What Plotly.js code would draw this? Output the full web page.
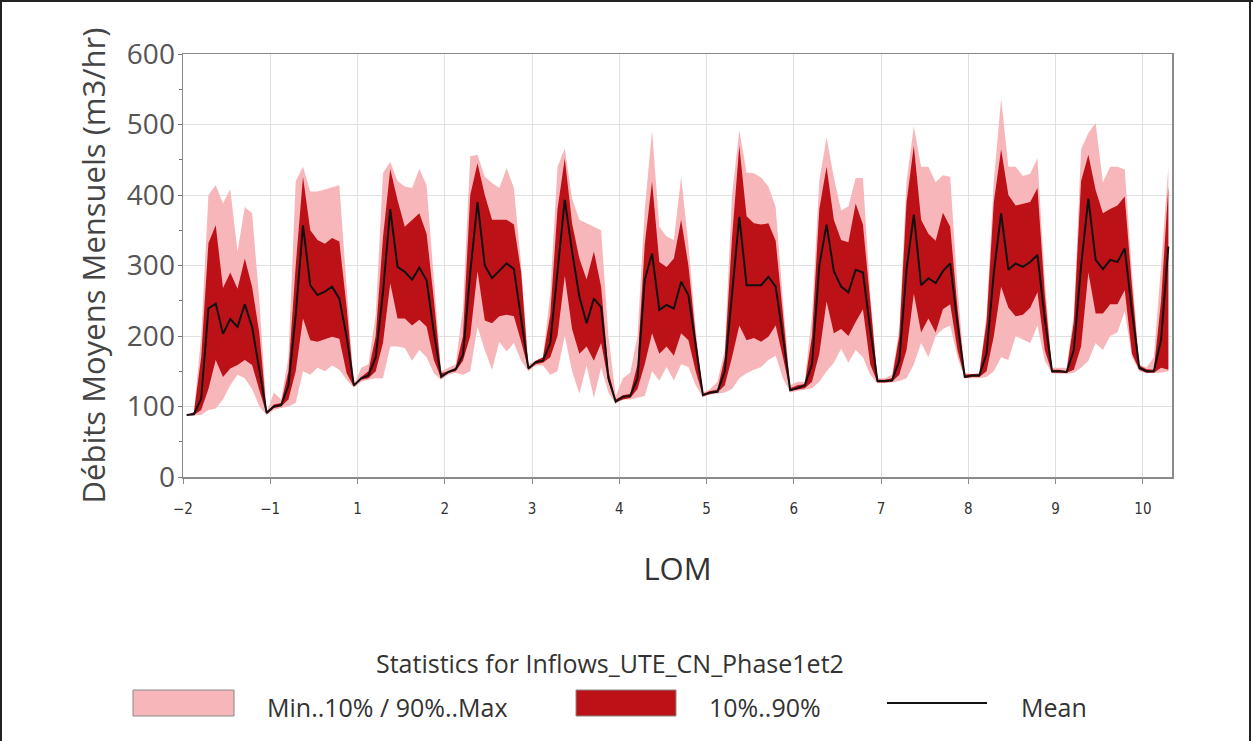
<!DOCTYPE html>
<html>
<head>
<meta charset="utf-8">
<script src="https://cdn.plot.ly/plotly-3.0.1.min.js"></script>
<style>
  html, body { margin: 0; padding: 0; background: #fff; }
  #chart { width: 1253px; height: 741px; }
</style>
</head>
<body>
<div id="chart"></div>
<script>
// x-axis year labels (there is no year 0 on this axis)
const tickLabels = ['\u22122', '\u22121', '1', '2', '3', '4', '5', '6', '7', '8', '9', '10'];

// Monthly statistics, one row per year (12 months), last row is a partial year
const minVals = [
  87, 87, 88, 95, 97, 110, 130, 145, 140, 125, 100, 88,
  95, 98, 100, 105, 150, 145, 155, 150, 158, 152, 138, 127,
  135, 138, 140, 140, 185, 185, 183, 165, 180, 170, 147, 138,
  145, 148, 145, 150, 213, 180, 152, 192, 178, 190, 165, 150,
  158, 158, 145, 150, 200, 150, 118, 158, 112, 155, 120, 104,
  110, 110, 112, 115, 150, 137, 156, 137, 160, 156, 130, 113,
  118, 118, 120, 125, 140, 147, 152, 156, 166, 172, 140, 120,
  122, 124, 126, 135, 150, 162, 182, 162, 180, 170, 145, 133,
  133, 134, 136, 140, 160, 190, 170, 200, 210, 215, 170, 140,
  140, 140, 142, 150, 170, 166, 200, 195, 190, 215, 165, 147,
  146, 146, 148, 155, 165, 190, 180, 200, 205, 235, 170, 150,
  147, 147, 148, 150
];
const p10Vals = [
  88, 88, 95, 125, 166, 142, 154, 159, 166, 159, 123, 89,
  98, 100, 110, 150, 225, 194, 192, 195, 199, 196, 147, 128,
  138, 140, 150, 190, 275, 225, 225, 215, 223, 213, 166, 140,
  148, 150, 165, 200, 292, 222, 218, 228, 230, 228, 192, 152,
  160, 162, 170, 200, 285, 210, 175, 185, 165, 190, 135, 106,
  110, 112, 125, 160, 204, 175, 185, 172, 204, 194, 150, 115,
  118, 120, 130, 170, 215, 194, 197, 192, 199, 215, 170, 122,
  124, 126, 135, 175, 249, 204, 210, 200, 220, 238, 160, 134,
  134, 135, 145, 180, 260, 205, 225, 205, 238, 245, 180, 140,
  142, 142, 150, 200, 270, 240, 228, 230, 240, 262, 180, 148,
  148, 148, 152, 185, 290, 232, 232, 245, 245, 265, 175, 152,
  148, 148, 155, 152
];
const meanVals = [
  88, 89, 111, 239, 246, 203, 224, 213, 245, 213, 152, 91,
  100, 102, 130, 230, 357, 272, 258, 263, 270, 253, 199, 130,
  140, 144, 170, 262, 380, 298, 291, 280, 297, 279, 205, 142,
  149, 153, 173, 290, 390, 300, 282, 292, 303, 295, 222, 154,
  163, 165, 190, 290, 393, 320, 256, 218, 253, 241, 140, 107,
  114, 115, 140, 280, 317, 237, 244, 239, 277, 258, 185, 116,
  120, 121, 150, 255, 369, 272, 272, 272, 284, 270, 199, 123,
  126, 130, 160, 300, 358, 292, 270, 262, 294, 290, 210, 136,
  136, 137, 165, 295, 372, 272, 282, 275, 292, 303, 218, 142,
  144, 144, 175, 290, 374, 294, 303, 298, 305, 315, 225, 150,
  150, 149, 180, 300, 395, 308, 295, 308, 305, 324, 235, 155,
  150, 150, 195, 327
];
const p90Vals = [
  88, 92, 170, 332, 357, 268, 290, 267, 310, 270, 204, 92,
  103, 105, 150, 300, 426, 350, 336, 331, 339, 334, 241, 130,
  142, 150, 200, 340, 437, 393, 355, 365, 374, 345, 251, 147,
  150, 155, 200, 400, 445, 400, 365, 365, 365, 358, 290, 154,
  165, 170, 230, 380, 452, 360, 310, 280, 320, 270, 150, 110,
  116, 118, 160, 330, 419, 305, 298, 310, 365, 300, 200, 118,
  122, 124, 170, 340, 470, 370, 360, 358, 360, 335, 230, 126,
  130, 132, 200, 380, 440, 365, 336, 333, 388, 358, 250, 138,
  138, 140, 200, 390, 470, 365, 345, 335, 375, 355, 240, 145,
  146, 146, 220, 390, 465, 400, 385, 388, 390, 410, 260, 152,
  152, 150, 220, 420, 457, 407, 374, 380, 385, 398, 270, 158,
  153, 152, 250, 412
];
const maxVals = [
  88, 92, 200, 400, 414, 388, 408, 320, 383, 374, 250, 92,
  120, 110, 170, 420, 440, 405, 405, 408, 412, 414, 270, 130,
  155, 160, 230, 431, 447, 420, 412, 410, 437, 414, 280, 150,
  155, 160, 240, 455, 457, 426, 417, 410, 438, 410, 300, 160,
  165, 170, 260, 440, 466, 395, 365, 360, 355, 350, 200, 115,
  140, 148, 200, 380, 492, 355, 341, 336, 426, 330, 210, 120,
  125, 135, 180, 400, 492, 432, 431, 425, 412, 383, 250, 130,
  135, 135, 230, 420, 482, 425, 378, 384, 424, 424, 260, 140,
  140, 145, 210, 420, 497, 440, 440, 418, 428, 426, 270, 148,
  146, 148, 230, 420, 537, 440, 440, 427, 430, 452, 280, 155,
  155, 155, 230, 465, 488, 502, 418, 440, 440, 436, 290, 160,
  155, 170, 300, 440
];

const PINK = '#F7B7BA';
const DARK = '#BD1118';

// month positions (mid-month), axis in months
const months = meanVals.map((_, i) => i + 0.5);
const tickVals = tickLabels.map((_, i) => i * 12);

const traces = [
  { x: months, y: minVals, type: 'scatter', mode: 'lines', line: { width: 0, color: PINK }, hoverinfo: 'skip', showlegend: false },
  { x: months, y: maxVals, type: 'scatter', mode: 'lines', fill: 'tonexty', fillcolor: PINK, line: { width: 0, color: PINK }, showlegend: false },
  { x: months, y: p10Vals, type: 'scatter', mode: 'lines', line: { width: 0, color: DARK }, hoverinfo: 'skip', showlegend: false },
  { x: months, y: p90Vals, type: 'scatter', mode: 'lines', fill: 'tonexty', fillcolor: DARK, line: { width: 0, color: DARK }, showlegend: false },
  { x: months, y: meanVals, type: 'scatter', mode: 'lines', line: { width: 2, color: '#111' }, showlegend: false }
];

// plot-area pixel box, used to place the hand-made legend
const PL = 183, PR = 1172, PT = 54, PB = 477;
const fx = p => (p - PL) / (PR - PL);
const fy = p => (PB - p) / (PB - PT);

const shapes = [
  { type: 'rect', xref: 'paper', yref: 'paper', x0: fx(133), x1: fx(234), y0: fy(716), y1: fy(690), fillcolor: PINK, line: { color: '#888', width: 1 } },
  { type: 'rect', xref: 'paper', yref: 'paper', x0: fx(576), x1: fx(676), y0: fy(716), y1: fy(690), fillcolor: DARK, line: { color: '#888', width: 1 } },
  { type: 'line', xref: 'paper', yref: 'paper', x0: fx(887), x1: fx(987), y0: fy(703), y1: fy(703), line: { color: '#111', width: 2 } },
  // page frame
  { type: 'line', xref: 'paper', yref: 'paper', x0: fx(1), x1: fx(1), y0: fy(0), y1: fy(741), line: { color: '#222', width: 2 } },
  { type: 'line', xref: 'paper', yref: 'paper', x0: fx(0), x1: fx(1253), y0: fy(1), y1: fy(1), line: { color: '#222', width: 2 } },
  { type: 'line', xref: 'paper', yref: 'paper', x0: fx(1250), x1: fx(1250), y0: fy(0), y1: fy(741), line: { color: '#222', width: 2 } }
];

const legFont = { family: 'Open Sans, sans-serif', size: 25, color: '#333' };
const annotations = [
  { xref: 'paper', yref: 'paper', x: fx(610), y: fy(663), xanchor: 'center', yanchor: 'middle', showarrow: false,
    text: 'Statistics for Inflows_UTE_CN_Phase1et2', font: { family: 'Open Sans, sans-serif', size: 25, color: '#333' } },
  { xref: 'paper', yref: 'paper', x: fx(265), y: fy(707), xanchor: 'left', yanchor: 'middle', showarrow: false,
    text: 'Min..10% / 90%..Max', font: legFont },
  { xref: 'paper', yref: 'paper', x: fx(707), y: fy(707), xanchor: 'left', yanchor: 'middle', showarrow: false,
    text: '10%..90%', font: legFont },
  { xref: 'paper', yref: 'paper', x: fx(1019), y: fy(707), xanchor: 'left', yanchor: 'middle', showarrow: false,
    text: 'Mean', font: legFont }
];

const layout = {
  width: 1253, height: 741,
  margin: { l: PL, r: 1253 - PR, t: PT, b: 741 - PB, pad: 0 },
  paper_bgcolor: '#fff', plot_bgcolor: '#fff',
  showlegend: false,
  xaxis: {
    range: [0, 136], tickmode: 'array', tickvals: tickVals, ticktext: tickLabels,
    showgrid: true, gridcolor: '#e0e0e0', gridwidth: 1, zeroline: false,
    showline: true, linecolor: '#8a8a8a', linewidth: 1.5, mirror: true,
    ticks: 'outside', ticklen: 5, tickcolor: '#8a8a8a', ticklabelstandoff: 12,
    tickfont: { family: 'DejaVu Sans Condensed, Liberation Sans Narrow, DejaVu Sans, sans-serif', size: 15, color: '#333' },
    title: { text: 'LOM', font: { family: 'Open Sans, sans-serif', size: 31, color: '#333' }, standoff: 42 }
  },
  yaxis: {
    range: [0, 600], tickmode: 'linear', tick0: 0, dtick: 100,
    showgrid: true, gridcolor: '#e0e0e0', gridwidth: 1, zeroline: false,
    showline: true, linecolor: '#8a8a8a', linewidth: 1.5, mirror: true,
    ticks: 'outside', ticklen: 4, tickcolor: '#777', ticklabelstandoff: -3,
    minor: { dtick: 50, ticks: 'outside', ticklen: 3, tickcolor: '#777', showgrid: false },
    tickfont: { family: 'Open Sans, sans-serif', size: 28, color: '#555' },
    title: { text: 'Débits Moyens Mensuels (m3/hr)', font: { family: 'Open Sans, sans-serif', size: 31, color: '#444' }, standoff: 12 }
  },
  shapes: shapes,
  annotations: annotations
};

Plotly.newPlot('chart', traces, layout, { staticPlot: true, displayModeBar: false });
</script>
</body>
</html>
